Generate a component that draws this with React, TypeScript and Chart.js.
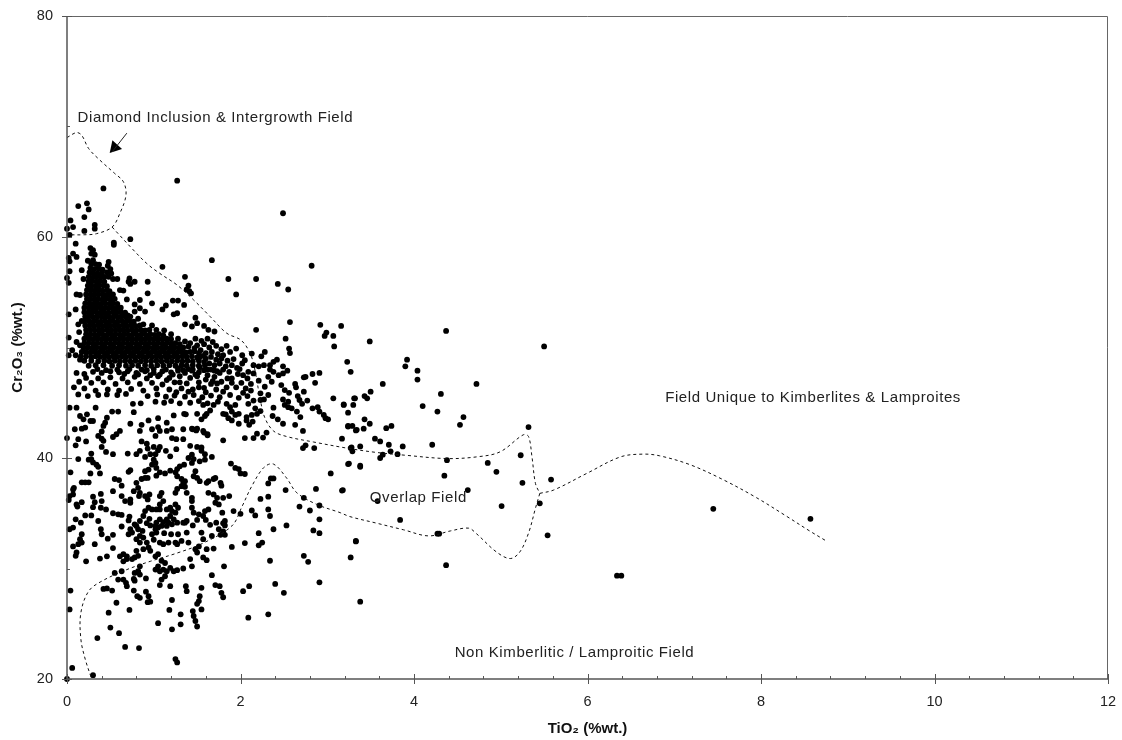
import React, { useEffect, useRef } from "react";
import { Chart, registerables } from "chart.js";
Chart.register(...registerables);

type P = [number, number];

const xTitle = "TiO₂ (%wt.)";
const yTitle = "Cr₂O₃ (%wt.)";

const fieldLabels: { text: string; x: number; y: number }[] = [
  { text: "Diamond Inclusion & Intergrowth Field", x: 1.71, y: 70.8 },
  { text: "Field Unique to Kimberlites & Lamproites", x: 8.6, y: 45.45 },
  { text: "Overlap Field", x: 4.05, y: 36.35 },
  { text: "Non Kimberlitic / Lamproitic Field", x: 5.85, y: 22.35 },
];

const diamondField: P[] = [[0,69],[.11,69.45],[.17,69.2],[.25,68],[.38,66.95],[.55,65.75],[.65,65],[.68,63.8],[.61,62.15],[.52,60.9],[.34,60.3],[.19,60.2],[.02,60.2]];
const upperBoundary: P[] = [[.52,60.9],[.59,60.3],[.75,58.95],[.92,57.6],[1.07,56.7],[1.27,55.65],[1.46,54.3],[1.65,52.8],[1.84,51.3],[2,50.7],[2.09,49.8],[2.15,48.55],[2.23,45.2],[2.28,43.65],[2.38,42.45],[2.53,41.95],[2.84,41.45],[3.26,40.85],[3.57,40.5],[3.9,40.25],[4.38,39.95],[4.72,40.1],[4.99,40.55],[5.26,42.1],[5.32,41.95],[5.36,40.1],[5.4,37.7],[5.45,36.8]];
const rightBoundary: P[] = [[5.45,36.8],[5.61,37.1],[5.99,38.6],[6.38,40.1],[6.64,40.35],[6.83,40.2],[7.18,39.4],[7.56,38.05],[7.95,36.4],[8.29,34.75],[8.56,33.4],[8.74,32.55]];
const lowerBoundary: P[] = [[5.45,36.8],[5.4,35.45],[5.32,33.2],[5.22,31.5],[5.11,30.9],[4.95,31.5],[4.72,33.15],[4.63,33.65],[4.42,33.4],[4.17,32.95],[3.88,33.5],[3.57,34.1],[3.26,34.7],[3.15,35.05],[2.88,35.8],[2.65,36.85],[2.53,38.2],[2.38,39.45],[2.27,39.15],[2.13,37.45],[2.02,35.65],[1.9,33.85],[1.57,32.3],[1.27,31.4],[.96,30.65],[.69,29.9],[.4,28.85],[.25,27.95],[.16,26],[.16,23.6],[.21,21.8],[.28,20.1]];
const arrowShaft: P[] = [[.69,69.4],[.52,67.7]];
const arrowHead: P[] = [[.55,68.1]];

const farPoints: P[] = [[3.49,50.55],[4.37,51.5],[5.5,50.1],[3.23,48.7],[3.27,47.8],[3.92,48.9],[3.9,48.3],[4.04,47.9],[4.04,47.1],[3.64,46.7],[4.72,46.7],[3.5,46],[3.43,45.6],[3.46,45.4],[3.32,45.4],[4.31,45.8],[3.19,44.8],[3.3,44.8],[4.1,44.7],[4.27,44.2],[3.24,44.1],[4.57,43.7],[4.53,43],[3.43,43.5],[3.49,43.1],[3.24,42.9],[3.29,42.9],[3.42,42.65],[3.33,42.5],[3.68,42.7],[3.74,42.9],[5.32,42.8],[3.17,41.75],[3.55,41.75],[3.61,41.5],[3.71,41.2],[3.87,41.05],[4.21,41.2],[3.38,41.05],[3.27,40.9],[3.29,40.6],[3.73,40.6],[3.81,40.35],[3.64,40.3],[3.61,40],[4.38,39.8],[5.23,40.25],[4.85,39.55],[3.24,39.45],[3.38,39.2],[4.95,38.75],[4.35,38.4],[5.58,38.05],[5.25,37.75],[3.17,37.05],[4.62,37.1],[3.58,36.1],[5.45,35.9],[5.01,35.65],[3.84,34.4],[4.27,33.15],[4.29,33.15],[5.54,33],[3.33,32.45],[3.27,31],[4.37,30.3],[6.34,29.35],[6.39,29.35],[7.45,35.4],[8.57,34.5]];

const upperPoints: P[] = [[1.27,65.1],[2.49,62.15],[.42,64.4],[.13,62.8],[.23,63.05],[.25,62.5],[.2,61.8],[.04,61.5],[.07,60.9],[0,60.75],[.32,61.1],[.32,60.75],[.2,60.55],[.03,60.2],[.1,59.4],[.54,59.5],[.54,59.3],[.73,59.8],[.27,59],[.3,58.8],[.28,58.5],[.32,58.4],[.07,58.5],[.11,58.2],[.02,58.1],[.03,57.8],[1.67,57.9],[2.82,57.4],[1.1,57.3],[.03,56.9],[.17,57],[1.36,56.4],[0,56.3],[.02,55.85],[.19,56.2],[1.86,56.2],[2.18,56.2],[2.43,55.75],[2.55,55.25],[1.95,54.8],[.72,56.25],[.71,55.95],[.78,55.95],[.73,55.75],[.93,55.95],[.58,56.2],[.53,56.2],[1.4,55.6],[1.38,55.25],[1.43,54.9],[1.41,55.1],[.61,55.2],[.65,55.15],[.93,54.9],[.11,54.8],[.15,54.75],[.69,54.35],[.53,54.8],[.84,54.3],[.78,53.9],[.84,53.55],[.9,53.25],[.78,53.25],[.98,54],[1.22,54.25],[1.28,54.25],[1.35,53.85],[1.14,53.8],[1.1,53.45],[1.23,53],[1.27,53.1],[.1,53.45],[.02,53],[1.48,52.7],[2.57,52.3],[1.36,52.1],[1.44,51.9],[1.5,52.2],[1.58,51.95],[1.63,51.6],[1.7,51.45],[2.18,51.6],[2.92,52.05],[3.16,51.95],[2.99,51.35],[2.97,51.05],[3.07,51.05],[3.08,50.1],[2.52,50.8],[2.56,49.9],[2.57,49.5],[1.84,50.15],[1.88,49.6],[1.95,49.9],[2.13,49.45],[2.24,49.2],[2.28,49.6],[2.02,49.3],[2.05,48.85],[.13,52.1],[.14,51.4],[.02,50.9],[.11,50.5],[.06,49.75],[.17,52.4],[.15,50.2],[.1,49.3],[.15,48.9],[.02,49.3]];

const coreBlob: P[] = [
[.28,57.6],[.33,57.55],[.37,57.5],[.27,57.2],[.31,57.1],[.36,57.15],[.41,57.05],[.47,57.4],[.5,57.1],[.26,56.8],[.3,56.75],[.35,56.7],[.4,56.75],[.46,56.8],[.51,56.7],[.25,56.4],[.3,56.35],[.34,56.4],[.39,56.35],[.43,56.4],[.48,56.4],[.25,56],[.29,56],[.34,55.95],[.38,56],[.43,55.95],[.24,55.6],[.28,55.6],[.33,55.55],[.37,55.6],[.42,55.6],[.46,55.55],[.23,55.2],[.28,55.2],[.32,55.15],[.37,55.2],[.41,55.15],[.46,55.2],[.49,55.1],
[.22,54.8],[.27,54.8],[.31,54.75],[.36,54.8],[.41,54.8],[.45,54.75],[.5,54.7],[.23,54.4],[.27,54.4],[.32,54.35],[.36,54.4],[.41,54.35],[.45,54.4],[.5,54.35],[.55,54.4],[.21,54],[.26,54],[.3,53.95],[.35,54],[.39,53.95],[.44,54],[.49,53.95],[.53,54],[.58,53.95],[.2,53.6],[.25,53.6],[.3,53.55],[.34,53.6],[.39,53.55],[.44,53.6],[.48,53.55],[.53,53.6],[.58,53.55],[.62,53.6],
[.2,53.2],[.25,53.2],[.29,53.15],[.34,53.2],[.39,53.15],[.43,53.2],[.48,53.15],[.53,53.2],[.57,53.15],[.62,53.2],[.67,53.15],[.21,52.8],[.25,52.8],[.3,52.75],[.35,52.8],[.4,52.75],[.45,52.8],[.49,52.75],[.54,52.8],[.59,52.75],[.63,52.8],[.68,52.75],[.73,52.8],[.2,52.4],[.25,52.4],[.3,52.35],[.34,52.4],[.39,52.35],[.44,52.4],[.49,52.35],[.53,52.4],[.58,52.35],[.63,52.4],[.68,52.35],[.72,52.4],[.77,52.35],
[.21,52],[.26,52],[.31,51.95],[.36,52],[.41,51.95],[.45,52],[.5,51.95],[.55,52],[.6,51.95],[.65,52],[.69,51.95],[.74,52],[.79,51.95],[.84,52],[.22,51.6],[.27,51.6],[.32,51.55],[.37,51.6],[.41,51.55],[.46,51.6],[.51,51.55],[.56,51.6],[.61,51.55],[.65,51.6],[.7,51.55],[.75,51.6],[.8,51.55],[.85,51.6],[.9,51.55],[.95,51.6],
[.22,51.2],[.27,51.2],[.32,51.15],[.37,51.2],[.42,51.15],[.47,51.2],[.52,51.15],[.56,51.2],[.61,51.15],[.66,51.2],[.71,51.15],[.76,51.2],[.81,51.15],[.86,51.2],[.91,51.15],[.96,51.2],[1.01,51.15],[1.06,51.2],[1.11,51.1],[.2,50.8],[.25,50.8],[.3,50.75],[.35,50.8],[.4,50.75],[.45,50.8],[.5,50.75],[.55,50.8],[.6,50.75],[.65,50.8],[.7,50.75],[.75,50.8],[.8,50.75],[.85,50.8],[.9,50.75],[.95,50.8],[1,50.75],[1.05,50.8],[1.1,50.75],[1.15,50.8],[1.2,50.75],
[.2,50.4],[.25,50.4],[.3,50.35],[.35,50.4],[.4,50.35],[.45,50.4],[.5,50.35],[.55,50.4],[.6,50.35],[.65,50.4],[.7,50.35],[.75,50.4],[.8,50.35],[.85,50.4],[.9,50.35],[.95,50.4],[1,50.35],[1.05,50.4],[1.1,50.35],[1.15,50.4],[1.2,50.35],[1.25,50.4],[1.3,50.3],[.19,50],[.24,50],[.29,49.95],[.34,50],[.39,49.95],[.44,50],[.49,49.95],[.54,50],[.59,49.95],[.64,50],[.69,49.95],[.74,50],[.79,49.95],[.84,50],[.89,49.95],[.94,50],[.99,49.95],[1.04,50],[1.09,49.95],[1.14,50],[1.19,49.95],[1.24,50],[1.29,49.95],[1.34,50],
[.17,49.6],[.22,49.6],[.27,49.55],[.32,49.6],[.37,49.55],[.42,49.6],[.47,49.55],[.52,49.6],[.57,49.55],[.62,49.6],[.67,49.55],[.72,49.6],[.77,49.55],[.82,49.6],[.87,49.55],[.92,49.6],[.97,49.55],[1.02,49.6],[1.07,49.55],[1.12,49.6],[1.17,49.55],[1.22,49.6],[1.27,49.55],[1.32,49.6],[1.37,49.55],[1.42,49.6],[.16,49.2],[.22,49.2],[.28,49.15],[.33,49.2],[.38,49.15],[.43,49.2],[.48,49.15],[.53,49.2],[.58,49.15],[.63,49.2],[.68,49.15],[.73,49.2],[.78,49.15],[.83,49.2],[.88,49.15],[.93,49.2],[.98,49.15],[1.03,49.2],[1.08,49.15],[1.13,49.2],[1.18,49.15],[1.23,49.2],[1.28,49.15],[1.33,49.2],[1.38,49.15],[1.44,49.2],[1.5,49.1],
[.2,48.8],[.28,48.8],[.36,48.75],[.43,48.8],[.49,48.75],[.55,48.8],[.61,48.75],[.67,48.8],[.73,48.75],[.79,48.8],[.85,48.75],[.91,48.8],[.97,48.75],[1.03,48.8],[1.09,48.75],[1.15,48.8],[1.21,48.75],[1.27,48.8],[1.33,48.75],[1.39,48.8],[1.45,48.75],[1.52,48.8],[1.58,48.7],[.33,48.4],[.42,48.4],[.52,48.35],[.6,48.4],[.68,48.35],[.75,48.4],[.82,48.35],[.9,48.4],[.97,48.35],[1.04,48.4],[1.11,48.35],[1.18,48.4],[1.25,48.35],[1.32,48.4],[1.38,48.35],[1.45,48.4],[1.52,48.35],[1.59,48.4],
[.7,52.9],[.82,52.6],[.88,52.1],[.98,52],[1.03,51.6],[1.12,51.55],[1.2,51.2],[1.28,50.8],[1.36,50.55],[1.4,50.1],[1.47,49.95],[1.52,49.5],[1.57,49.25],[.58,48],[.72,48.05],[.86,48],[1,48.05],[1.14,48],[1.28,48.1],[1.4,48.05],
[.24,57.85],[.3,57.9],[.48,57.75],[.35,48.05],[.45,47.95],[.25,48.35],[.92,47.95],[1.07,47.55],[1.22,47.55],[1.34,47.95],[1.48,47.55],[1.62,48],[1.7,47.9],[.66,47.6],[.82,47.55],[.96,47.5]];

const midBand: P[] = [[1.48,50.8],[1.55,50.6],[1.62,50.8],[1.68,50.5],[1.42,50.4],[1.5,50.2],[1.58,50.3],[1.64,50],[1.72,50.15],[1.78,49.85],[1.47,49.65],[1.54,49.75],[1.6,49.5],[1.67,49.6],[1.74,49.4],[1.8,49.3],[1.53,49.15],[1.6,49],[1.66,49.15],[1.72,48.9],[1.78,49],[1.85,48.8],[1.92,48.95],[1.64,48.55],[1.7,48.4],[1.76,48.55],[1.83,48.3],[1.9,48.4],[1.96,48.15],[1.66,48],[1.73,47.85],[1.8,48],[1.87,47.8],[2.02,48.55],[1.58,47.95],[1.52,47.75],[1.44,47.9],[1.36,47.7],[1.28,47.9],[1.2,47.75],[1.1,47.85],[1,47.7],[.9,47.85],[.8,47.7],[.7,47.85],[.6,47.75],[.5,47.85],[.4,47.7],[.3,47.8],[.2,47.6],[.11,47.7],[1.62,47.5],[1.7,47.35],[1.5,47.4],[1.42,47.25],[1.3,47.4],[1.18,47.25],[1.05,47.4],[.92,47.2],[.78,47.35],[.64,47.2],[.5,47.3],[.36,47.2],[.22,47.25],[.14,46.9],[.28,46.8],[.42,46.85],[.56,46.7],[.7,46.85],[.84,46.7],[.98,46.8],[1.1,46.65],[1.24,46.85],[1.38,46.75],[1.52,46.85],[1.66,46.7],[1.78,46.9],[1.9,47.2],[2.01,46.8],[1.95,46.4],[1.84,46.4],[1.72,46.2],[1.58,46.35],[1.45,46.2],[1.32,46.3],[1.18,46.2],[1.03,46.3],[.88,46.1],[.74,46.25],[.6,46.1],[.47,46.2],[.33,46.1],[.2,46.3],[.08,46.4],[.13,45.75],[.24,45.6],[.36,45.7],[.46,45.75],[.58,45.7],[.68,45.8],[.93,45.6],[1.04,45.75],[1.14,45.55],[1.24,45.65],[1.36,45.55],[1.46,45.7],[1.56,45.5],[1.66,45.65],[1.76,45.5],[1.88,45.7],[1.98,45.45],[2.08,45.6],[1.02,45.1],[1.12,45],[1.2,45.15],[1.3,44.95],[1.42,45],[1.52,45.15],[1.62,44.95],[1.74,45.1],[1.84,44.9],
[1.45,48],[1.53,48.2],[2.15,48.4],[2.21,48.3],[2.27,48.4],[1.99,48.05],[2.09,47.8],[2.15,47.65],[2.03,47.5],[2.38,48.7],[2.42,48.9],[2.34,48.4],[2.34,48],[2.38,47.8],[2.44,47.5],[2.49,48.3],[2.54,47.9],[2.49,47.65],[2.32,47.35],[2.36,46.9],[2.21,47],[2.73,47.3],[2.75,47.35],[2.83,47.6],[2.91,47.7],[2.86,46.8],[2.47,46.6],[2.63,46.7],[2.64,46.4],[2.28,46.45],[2.51,46.15],[2.56,45.9],[2.73,46],[2.23,45.85],[2.32,45.7],[2.66,45.6],[2.68,45.25],[2.71,44.9],[2.77,45.2],[2.49,45.3],[2.55,45.1],[2.51,44.8],[2.55,44.6],[2.59,44.5],[2.65,44.2],[2.69,43.7],[3.07,45.4],[3.19,44.85],[3.31,45.4],[2.83,44.5],[2.89,44.6],[2.91,44.2],[2.96,43.9],[2.98,43.6],[3.01,43.5],[2.38,44.55],[2.37,43.8],[2.43,43.5],[2.49,43.1],[2.63,43],[2.23,45.25],[2.27,45.3],[2.15,45.2],[2.09,44.9],[2.17,44.5],[2.07,43.7],[2.13,43.9],[2.19,44],[2.23,44.25],[2.07,43.4],[2.14,43.3],[2.1,43],[1.94,44.8],[1.88,44.6],[1.9,44.2],[1.94,43.9],[1.98,44],[1.86,43.6],[1.9,43.4],[1.98,43.1],[1.8,44],[1.83,43.95],[1.5,44],[1.55,43.5],[1.59,43.8],[1.69,44.8],[1.57,44.8],[1.65,44.3],[1.45,42.6],[1.49,42.5],[1.58,42.3],[1.62,42.05],[1.8,41.6],[2.05,41.8],[2.15,41.8],[2.19,42.2],[2.26,41.85],[2.3,42.3],[2.72,42.45],[3.24,42.85],[3.34,42.55],[2.75,41.15],[2.72,40.9],[2.85,40.9],[1.55,40.95],[3.28,40.95],
[1.6,47.1],[1.73,46.75],[1.85,47.2],[1.97,47.6],[2.08,47.2],[2.12,46.7],[2.06,46.3],[1.9,46.8],[1.76,47.7],[1.68,46.95],[1.52,46.4],[1.3,46.85],[1.15,47.05],[1.4,46],[1.26,45.95],[1.6,45.95],[1.8,46],[2.12,46.1],[2.03,45.9]];

const lowerPoints: P[] = [[.03,44.55],[.11,44.55],[.33,44.55],[.52,44.2],[.59,44.2],[.76,44.9],[.85,44.95],[.77,44.15],[.15,43.8],[.23,43.95],[.19,43.5],[.3,43.35],[.27,43.35],[.46,43.65],[.44,43.2],[.42,42.9],[.73,43.1],[.86,43],[.94,43.4],[1.05,43.6],[1.15,43.2],[1.23,43.85],[1.35,44],[1.37,43.95],[1.61,44],[.09,42.6],[.17,42.65],[.21,42.75],[.4,42.4],[.36,42],[.4,41.75],[.42,41.55],[.61,42.45],[.57,42.15],[.53,41.9],[.84,42.45],[1.05,42.8],[.98,42.6],[1.07,42.45],[1.15,42.45],[1.21,42.6],[1.34,42.6],[1.44,42.65],[1.5,42.65],[1.57,42.45],[1.62,42.15],[1.02,42],[1.21,41.8],[1.26,41.7],[1.34,41.7],[0,41.8],[.13,41.7],[.22,41.5],[.1,41.15],[.86,41.5],[.92,41.3],[.93,40.85],[1,41],[1.07,41],[.96,40.35],[1.02,40.35],[1.05,40.7],[.4,41],[.45,40.55],[.53,40.35],[.7,40.4],[.84,40.65],[.8,40.35],[1.14,40.65],[1.26,40.8],[1.42,41.1],[1.5,41],[1.55,40.65],[1.59,40.35],[1.67,40.1],[.28,40.4],[.13,39.9],[.25,39.85],[.28,39.9],[.3,39.6],[.34,39.4],[.36,39.2],[.9,40.1],[1,39.85],[.98,39.4],[1.02,39.55],[1.19,40.15],[1.03,39.1],[.9,38.8],[1.44,40.3],[1.4,40],[1.46,39.9],[1.53,39.7],[1.59,39.85],[1.35,39.4],[1.3,39.25],[1.27,39],[1.89,39.5],[1.94,39.1],[1.98,39],[2,38.6],[2.05,38.55],[.04,38.7],[.27,38.6],[.38,38.6],[.73,38.9],[.71,38.75],[.94,38.95],[.9,38.2],[.86,38.1],
[.17,37.8],[.21,37.8],[.25,37.8],[.07,37.15],[.07,36.7],[.02,36.2],[.03,36.55],[.08,37.3],[.11,35.8],[.12,35.6],[.17,36],[.3,36.5],[.39,36.75],[.32,36],[.4,36.1],[.3,35.55],[.39,35.5],[.45,35.35],[.53,37],[.63,36.55],[.73,36.25],[.67,36.1],[.73,35.95],[.55,38.1],[.6,38],[.63,37.5],[.8,37.75],[.82,37.3],[.84,36.85],[.83,36.55],[.77,37],[.93,38.2],[.9,36.55],[.93,36.25],[.95,36.7],[1.09,36.85],[1.07,36.55],[1.11,36.1],[1.07,35.8],[1.07,35.35],[1.27,37.2],[1.25,36.85],[1.32,37.45],[1.36,37.4],[1.38,36.85],[1.36,37.9],[1.32,38.1],[1.03,38.4],[1.07,38.7],[1.13,38.6],[1.19,38.85],[1.25,38.7],[1.27,38.35],[1.34,37.75],[1.44,39.55],[1.48,38.8],[1.46,38.35],[1.5,38.2],[1.53,37.9],[1.61,37.75],[1.63,37.9],[1.69,38.1],[1.71,38.2],[1.77,37.75],[1.78,37.5],[1.63,36.85],[1.69,36.7],[1.73,36.4],[1.8,36.4],[1.87,36.55],[1.71,35.95],[1.75,35.8],[1.44,36.4],[1.44,36.1],[1.44,35.5],[1.46,35.05],[1.52,34.9],[1.59,35.2],[1.63,35.35],[1.57,34.75],[1.79,35.05],[1.82,34.3],[1.92,35.2],[2,34.95],[2.13,35.25],[2.17,34.8],[2.23,36.3],[2.32,36.5],[2.32,35.35],[2.34,34.75],[2.38,33.55],[2.53,33.9],[2.32,37.7],[2.38,38.15],[2.35,38.15],[2.52,37.1],[2.73,36.4],[2.87,37.2],[3.18,37.1],[2.68,35.6],[2.8,35.25],[2.91,35.7],[2.91,34.45],[2.84,33.45],[2.91,33.2],[3.04,38.6],[3.25,39.5],[3.38,39.3],[3.33,32.5],[3.38,27],[2.73,31.15],[2.78,30.6],[2.91,28.75],[2.21,33.2],[2.25,32.35],[2.21,32.1],[2.05,32.3],[1.9,31.95],[1.81,30.2],[1.67,29.4],[2.34,30.7],[2.4,28.6],[2.5,27.8],[2.32,25.85],[2.09,25.55],[2.03,27.95],[2.1,28.4],
[.59,34.9],[.63,34.85],[.53,35],[.72,34.7],[.71,34.35],[.63,33.8],[.73,33.55],[.75,33.25],[.71,33.1],[.78,34],[.84,34.3],[.8,33.85],[.82,33.55],[.94,35.5],[.98,35.35],[.9,35.2],[1.03,35.35],[1.15,35.35],[1.19,35.5],[1.25,35.8],[1.21,35.2],[1.28,35.5],[1.25,35.05],[1.34,34.15],[1.36,34.15],[1.38,34.3],[1.19,34.75],[1.15,34.45],[1.11,34.2],[1.23,34.45],[1.17,34.15],[1.03,34.15],[1.07,34.45],[1.02,33.85],[1.05,33.7],[1.09,33.85],[1.15,33.85],[1.21,34],[1.27,34.15],[1.6,34.4],[1.65,33.95],[1.72,34.15],[1.8,34.1],[1.82,33.9],[1.75,33.55],[1.8,33.35],[1.82,33.05],[1.77,33.05],[.87,33.4],[.84,32.95],[.8,32.65],[.88,32.8],[.92,32.35],[.94,31.9],[.96,31.6],[1.02,31.1],[1.05,31.3],[.98,33.1],[1.02,33.55],[1.03,33.25],[1,32.6],[1.07,32.35],[1.11,32.2],[1.17,32.35],[1.25,32.35],[1.32,32.5],[1.28,33.1],[1.38,33.25],[1.4,32.35],[1.27,32.2],[1.48,31.75],[1.52,32],[1.57,32.65],[1.55,33.25],[1.67,32.95],[1.61,31.75],[1.69,31.8],[1.57,31],[1.61,30.75],[1.5,31.45],[1.42,30.85],[1.44,30.2],[1.34,30],[1.27,29.85],[1.23,29.75],[.61,31.1],[.65,31.3],[.69,31.1],[.75,30.85],[.78,31],[.65,30.65],[.69,30.85],[.8,31.6],[.84,32.35],[.88,31.75],[.82,31.15],[1.02,29.9],[1.05,30.2],[1.07,29.75],[1.11,29.9],[1.13,30.5],[1.15,29.75],[1.19,30.05],[1.09,30.7],[1.13,29.3],[.84,30.2],[.78,29.6],[.82,29.75],[.84,29.45],[.55,29.6],[.63,29.75],[.65,29],[.59,29],[.68,28.7],[.69,28.4],[.77,29.05],[.78,28.9],[.91,29.1],[1.09,29],[1.07,28.5],[1.19,28.4],[1.37,28.4],[1.38,27.95],[1.71,28.5],[1.76,28.4],[1.78,27.8],[1.8,27.4],[1.55,28.25],[1.53,27.5],[1.52,27.05],[1.5,26.8],[.42,28.15],[.46,28.2],[.52,28],[.04,28],[.03,26.3],[.77,28],[.81,27.5],[.84,27.35],[.91,27.9],[.94,27.5],[.96,27],[.93,26.95],[1.21,27.15],[.57,26.9],[.48,26],[.72,26.25],[1.18,26.25],[1.31,25.85],[1.45,26.15],[1.46,25.7],[1.48,25.25],[1.55,26.3],[1.05,25.05],[1.21,24.5],[1.31,24.95],[1.5,24.75],[.5,24.65],[.6,24.15],[.35,23.7],[.67,22.9],[.83,22.8],[1.25,21.8],[1.27,21.5],[.06,21],[.3,20.35],[0,20],[.1,34.45],[.16,34.15],[.21,34.8],[.28,34.8],[.36,34.3],[.39,33.55],[.4,33.1],[.03,33.55],[.07,33.7],[.07,32],[.13,32.2],[.17,32.35],[.17,33.1],[.15,32.65],[.11,31.45],[.1,31.15],[.22,30.65],[.32,32.2],[.47,32.7],[.53,33.05],[.53,31.85],[.38,30.9],[.46,31.1],[.92,34.1],[.95,34.5],[.88,34.75],[.96,33.9],[1.12,33.2],[1.2,33.1],[1.45,33.9],[1.5,34.4]];

const sets: P[][] = [farPoints, upperPoints, coreBlob, midBand, lowerPoints];
const curves: P[][] = [diamondField, upperBoundary, rightBoundary, lowerBoundary];
const xy = (p: P[]) => p.map(([x, y]) => ({ x, y }));
const near = (v: number, m: number) => Math.abs(v / m - Math.round(v / m)) < 1e-6;

const pin = (s: any) => {
  s.paddingTop = 0;
  s.paddingBottom = 0;
  s.paddingLeft = 0;
  s.paddingRight = 0;
};

const frame = {
  id: "frame",
  afterDatasetsDraw(c: any) {
    const { ctx, chartArea: a, scales } = c;
    ctx.save();
    ctx.strokeStyle = "#666";
    ctx.lineWidth = 1;
    ctx.beginPath();
    ctx.moveTo(a.left, a.top + 0.5);
    ctx.lineTo(a.right - 0.5, a.top + 0.5);
    ctx.lineTo(a.right - 0.5, a.bottom);
    ctx.stroke();
    ctx.strokeStyle = "#555";
    ctx.lineWidth = 1.5;
    ctx.beginPath();
    ctx.moveTo(a.left, a.top);
    ctx.lineTo(a.left, a.bottom);
    ctx.lineTo(a.right, a.bottom);
    ctx.stroke();
    ctx.lineWidth = 1;
    ctx.beginPath();
    for (const t of scales.x.ticks) {
      const px = Math.round(scales.x.getPixelForValue(t.value)) + 0.5;
      const major = near(t.value, 2);
      ctx.moveTo(px, a.bottom + (major ? 5 : 0));
      ctx.lineTo(px, a.bottom - (major ? 5 : 3));
    }
    for (const t of scales.y.ticks) {
      const py = Math.round(scales.y.getPixelForValue(t.value)) + 0.5;
      const major = near(t.value, 20);
      ctx.moveTo(a.left - (major ? 5 : 0), py);
      ctx.lineTo(a.left + (major ? 5 : 3), py);
    }
    ctx.stroke();
    ctx.fillStyle = "#222";
    ctx.font = "15px 'Liberation Sans'";
    ctx.textAlign = "center";
    ctx.textBaseline = "middle";
    (ctx as any).letterSpacing = "0.6px";
    for (const l of fieldLabels) {
      ctx.fillText(l.text, scales.x.getPixelForValue(l.x), scales.y.getPixelForValue(l.y));
    }
    ctx.restore();
  },
};

export default function App() {
  const ref = useRef<HTMLCanvasElement>(null);
  useEffect(() => {
    const chart = new Chart(ref.current!, {
      type: "scatter",
      plugins: [frame],
      data: {
        datasets: [
          ...curves.map((c) => ({
            data: xy(c),
            showLine: true,
            borderColor: "#111",
            borderWidth: 1,
            borderDash: [3, 3],
            tension: 0.35,
            pointRadius: 0,
          })),
          { data: xy(arrowShaft), showLine: true, borderColor: "#222", borderWidth: 1, pointRadius: 0 },
          {
            data: xy(arrowHead),
            pointStyle: "triangle",
            pointRadius: 7.5,
            rotation: 222,
            backgroundColor: "#000",
            borderColor: "#000",
            borderWidth: 0,
          },
          ...sets.map((s) => ({
            data: xy(s),
            pointStyle: "circle",
            pointRadius: 2.9,
            backgroundColor: "#000",
            borderColor: "#000",
            borderWidth: 0,
            clip: false,
          })),
        ],
      } as any,
      options: {
        responsive: false,
        animation: false,
        layout: { padding: { left: 0, right: 14, top: 16, bottom: 0 } },
        plugins: { legend: { display: false }, tooltip: { enabled: false } },
        scales: {
          x: {
            type: "linear",
            min: 0,
            max: 12,
            afterFit: (s: any) => { s.height = 61; pin(s); },
            grid: { display: false, drawTicks: false },
            border: { display: false },
            ticks: {
              stepSize: 0.4,
              autoSkip: false,
              maxRotation: 0,
              padding: 14,
              color: "#222",
              font: { family: "Liberation Sans", size: 14.5 },
              callback: (v: any) => (near(v, 2) ? String(Math.round(v)) : ""),
            },
            title: {
              display: true,
              text: xTitle,
              color: "#111",
              font: { family: "Liberation Sans", size: 15, weight: "bold" },
              padding: { top: 0, bottom: 2 },
            },
          },
          y: {
            type: "linear",
            min: 20,
            max: 80,
            afterFit: (s: any) => { s.width = 67; pin(s); },
            grid: { display: false, drawTicks: false },
            border: { display: false },
            ticks: {
              stepSize: 10,
              autoSkip: false,
              padding: 14,
              color: "#222",
              font: { family: "Liberation Sans", size: 14.5 },
              callback: (v: any) => (near(v, 20) ? String(Math.round(v)) : ""),
            },
            title: {
              display: true,
              text: yTitle,
              color: "#111",
              font: { family: "Liberation Sans", size: 15, weight: "bold" },
              padding: { top: 9, bottom: 0 },
            },
          },
        },
      },
    } as any);
    return () => chart.destroy();
  }, []);
  return (
    <div style={{ position: "absolute", left: 0, top: 0, width: 1122, height: 740, background: "#fff" }}>
      <canvas ref={ref} width={1122} height={740} style={{ display: "block" }} />
    </div>
  );
}
